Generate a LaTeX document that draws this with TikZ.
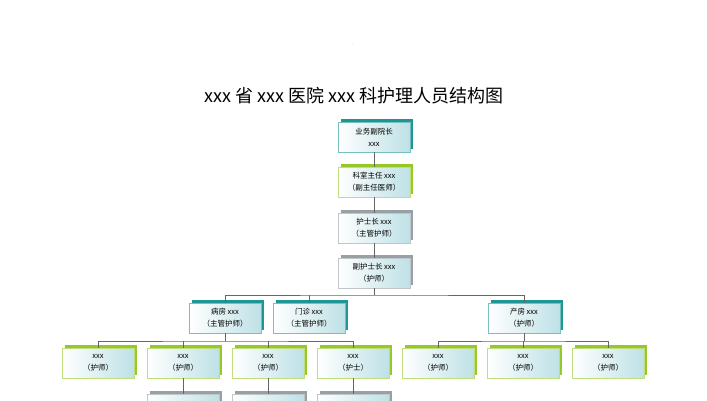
\documentclass[tikz,border=0pt]{standalone}
\usepackage{fontspec}
\setmainfont{Noto Sans CJK SC}
\usetikzlibrary{shadows}
\definecolor{tealc}{RGB}{30,150,150}
\definecolor{greenc}{RGB}{150,200,40}
\definecolor{grayc}{RGB}{150,160,165}
\definecolor{lightc}{RGB}{190,225,230}
\tikzset{
 bx/.style={minimum width=72pt,minimum height=30pt,inner sep=0pt,align=center,
   font=\fontsize{7.5}{12}\selectfont, shading=axis,shading angle=225,
   left color=white,right color=lightc, draw=#1!60,line width=0.5pt,
   copy shadow={shadow xshift=3pt,shadow yshift=3pt,fill=#1,draw=none}},
 ln/.style={draw=gray!80!black,line width=1pt}
}
\begin{document}
\begin{tikzpicture}[x=1pt,y=-1pt]
\clip (0,0) rectangle (707,400);
\useasboundingbox (0,0) rectangle (707,400);
\fill[white] (0,0) rectangle (707,400);
\node[font=\tiny,text=gray] (dot) at (353,44) {.};
\node[font=\fontsize{18}{20}\selectfont] (title) at (354,96) {xxx 省 xxx 医院 xxx 科护理人员结构图};
\node[bx=tealc] (a) at (374,137) {业务副院长\\xxx};
\node[bx=greenc] (b) at (374,182) {科室主任 xxx\\（副主任医师）};
\node[bx=grayc] (c) at (374,228) {护士长 xxx\\（主管护师）};
\node[bx=grayc] (d) at (374,273) {副护士长 xxx\\（护师）};
\node[bx=tealc] (e) at (225,318) {病房 xxx\\（主管护师）};
\node[bx=tealc] (f) at (309,318) {门诊 xxx\\（主管护师）};
\node[bx=tealc] (g) at (524,318) {产房 xxx\\（护师）};
\foreach \n/\x/\t in {r1/98/护师,r2/183/护师,r3/268/护师,r4/353/护士,r5/438/护师,r6/523/护师,r7/608/护师}
  \node[bx=greenc] (\n) at (\x,363) {xxx\\（\t）};
\foreach \n/\x in {s2/183,s3/268,s4/353}
  \node[bx=grayc] (\n) at (\x,409) {};
\coordinate (j1) at (374,295);
\coordinate (j2) at (225,341);
\coordinate (j3) at (524,341);
\draw[ln] (a) -- (b);
\draw[ln] (b) -- (c);
\draw[ln] (c) -- (d);
\draw[ln] (d) -- (j1);
\draw[ln] (e.north) |- (j1) -| (g.north);
\draw[ln] (f.north) -- (f.north |- j1);
\draw[ln] (e.south) -- (j2);
\draw[ln] (r1.north) |- (j2) -| (r4.north);
\draw[ln] (r2.north) -- (r2.north |- j2);
\draw[ln] (r3.north) -- (r3.north |- j2);
\draw[ln] (g.south) -- (j3);
\draw[ln] (r5.north) |- (j3) -| (r7.north);
\draw[ln] (r6.north) -- (r6.north |- j3);
\draw[ln] (r2) -- (s2);
\draw[ln] (r3) -- (s3);
\draw[ln] (r4) -- (s4);
\end{tikzpicture}
\end{document}
